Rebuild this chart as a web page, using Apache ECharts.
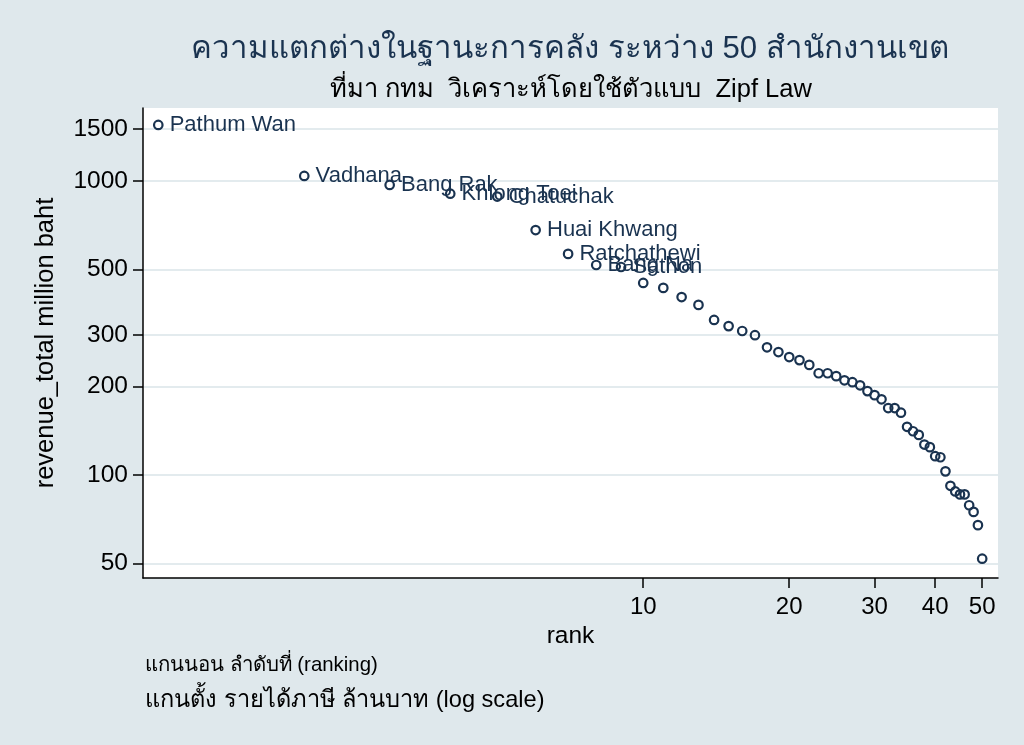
<!DOCTYPE html>
<html>
<head>
<meta charset="utf-8">
<script src="https://cdn.jsdelivr.net/npm/echarts@6/dist/echarts.min.js"></script>
<style>
html,body{margin:0;padding:0;background:#dfe8ec;}
#chart{width:1024px;height:745px;}
</style>
</head>
<body>
<div id="chart"></div>
<script>
// ---- data ----
const ranks = [1,2,3,4,5,6,7,8,9,10,11,12,13,14,15,16,17,18,19,20,21,22,23,24,25,26,27,28,29,30,31,32,33,34,35,36,37,38,39,40,41,42,43,44,45,46,47,48,49,50];
const revenue = [1550,1040,969,905,885,681,565,518,510,450,433,403,379,337,321,309,299,272,262,252,246,237,222,222,217,210,207,202,193,187,181,169,169,163,146,141,137,127,124.5,116,115,103,92,88,86,86,79,75,67.6,52];
const districtLabels = ["Pathum Wan","Vadhana","Bang Rak","Khlong Toei","Chatuchak","Huai Khwang","Ratchathewi","Bang Na","Sathon"];
const xTicks = [10,20,30,40,50];
const yTicks = [50,100,200,300,500,1000,1500];
const titleText = "ความแตกต่างในฐานะการคลัง ระหว่าง 50 สำนักงานเขต";
const subtitleText = "ที่มา กทม  วิเคราะห์โดยใช้ตัวแบบ  Zipf Law";
const xTitle = "rank";
const yTitle = "revenue_total million baht";
const note1 = "แกนนอน ลำดับที่ (ranking)";
const note2 = "แกนตั้ง รายได้ภาษี ล้านบาท (log scale)";

const FONT = "'Liberation Sans', Arial, 'Noto Sans', 'DejaVu Sans', sans-serif";
const NAVY = '#1a3350';

const points = ranks.map((r, i) => ({
  value: [r, revenue[i]],
  name: districtLabels[i] || ''
}));

const chart = echarts.init(document.getElementById('chart'));
chart.setOption({
  backgroundColor: '#dfe8ec',
  animation: false,
  title: [
    {text: titleText, left: 565, top: 29, textAlign: 'center',
     textStyle: {fontFamily: FONT, fontSize: 31.2, fontWeight: 'normal', color: NAVY}},
    {text: subtitleText, left: 566, top: 72, textAlign: 'center',
     textStyle: {fontFamily: FONT, fontSize: 25.5, fontWeight: 'normal', color: '#000'}}
  ],
  grid: {left: 143, top: 108, right: 26, bottom: 167, show: true, backgroundColor: '#ffffff', borderWidth: 0},
  xAxis: {
    type: 'log', logBase: 10, min: 0.93, max: 53.9,
    name: xTitle, nameLocation: 'middle', nameGap: 46,
    nameTextStyle: {fontFamily: FONT, fontSize: 24.5, color: '#000'},
    axisLine: {show: true, onZero: false, lineStyle: {color: '#000', width: 1.5}},
    axisTick: {show: true, length: 10, customValues: xTicks, lineStyle: {color: '#000', width: 1.5}},
    axisLabel: {customValues: xTicks, fontFamily: FONT, fontSize: 24, color: '#000', margin: 17,
      formatter: v => String(Math.round(v))},
    splitLine: {show: false},
    minorTick: {show: false}
  },
  yAxis: {
    type: 'log', logBase: 10, min: 44.7, max: 1770,
    name: yTitle, nameLocation: 'middle', nameGap: 84, nameRotate: 90,
    nameTextStyle: {fontFamily: FONT, fontSize: 25.5, color: '#000'},
    axisLine: {show: true, onZero: false, lineStyle: {color: '#000', width: 1.5}},
    axisTick: {show: true, length: 10, customValues: yTicks, lineStyle: {color: '#000', width: 1.5}},
    axisLabel: {customValues: yTicks, fontFamily: FONT, fontSize: 24.5, color: '#000', margin: 15,
      formatter: v => String(Math.round(v))},
    splitLine: {show: true, lineStyle: {color: '#e3ebee', width: 2}}
  },
  series: [{
    type: 'scatter',
    data: points,
    symbol: 'circle',
    symbolSize: 8.5,
    itemStyle: {color: 'rgba(0,0,0,0)', borderColor: NAVY, borderWidth: 2.2, opacity: 1},
    label: {show: true, position: 'right', distance: 6, formatter: p => p.name,
      fontFamily: FONT, fontSize: 22, color: NAVY},
    labelLayout: {hideOverlap: false},
    emphasis: {disabled: true}
  }],
  graphic: [
    {type: 'text', left: 145, top: 655, style: {text: note1, fontFamily: FONT, fontSize: 20.4, fill: '#000'}},
    {type: 'text', left: 145, top: 688, style: {text: note2, fontFamily: FONT, fontSize: 23.6, fill: '#000'}}
  ]
});
</script>
</body>
</html>
